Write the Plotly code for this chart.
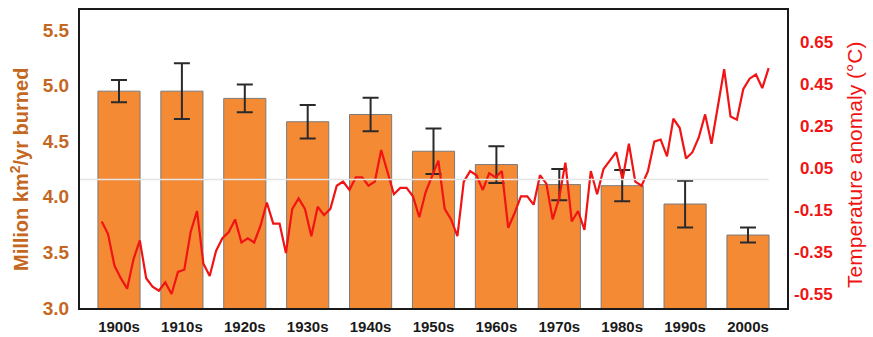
import plotly.graph_objects as go

# ---- data ----
decades = ["1900s", "1910s", "1920s", "1930s", "1940s", "1950s",
           "1960s", "1970s", "1980s", "1990s", "2000s"]
burned = [4.95, 4.95, 4.885, 4.675, 4.74, 4.41, 4.29, 4.11, 4.10, 3.935, 3.656]
burned_err = [0.10, 0.25, 0.125, 0.15, 0.15, 0.205, 0.165, 0.14, 0.14, 0.21, 0.068]

years = list(range(1900, 2006))
temp_anom = [
    -0.20, -0.26, -0.41, -0.47, -0.52, -0.38, -0.29, -0.47, -0.51, -0.53,
    -0.49, -0.545, -0.44, -0.43, -0.25, -0.15, -0.40, -0.46, -0.34, -0.28,
    -0.25, -0.19, -0.30, -0.28, -0.30, -0.22, -0.11, -0.21, -0.21, -0.35,
    -0.14, -0.09, -0.14, -0.27, -0.13, -0.17, -0.14, -0.03, -0.01, -0.05,
    0.01, 0.01, -0.03, -0.01, 0.14, 0.03, -0.07, -0.04, -0.04, -0.08,
    -0.18, -0.06, 0.02, 0.09, -0.14, -0.19, -0.27, -0.01, 0.04, 0.02,
    -0.05, 0.03, 0.01, 0.04, -0.23, -0.16, -0.08, -0.08, -0.12, 0.02,
    -0.02, -0.19, -0.09, 0.08, -0.20, -0.15, -0.24, 0.04, -0.07, 0.05,
    0.09, 0.13, 0.00, 0.17, -0.01, -0.03, 0.04, 0.18, 0.19, 0.11,
    0.29, 0.245, 0.10, 0.13, 0.20, 0.31, 0.17, 0.35, 0.525, 0.30,
    0.285, 0.43, 0.48, 0.50, 0.435, 0.53,
]

left_ticks = [3.0, 3.5, 4.0, 4.5, 5.0, 5.5]
right_ticks = [0.65, 0.45, 0.25, 0.05, -0.15, -0.35, -0.55]
right_tick_labels = ["0.65", "0.45", "0.25", "0.05", "-0.15", "-0.35", "-0.55"]

BROWN = "#C4671F"
RED = "#F01414"
FONT = "Arial, Liberation Sans, sans-serif"

fig = go.Figure()
fig.add_trace(go.Bar(
    x=decades, y=burned, width=0.67,
    marker=dict(color="#F58A35", line=dict(color="#7a7a7a", width=1)),
    error_y=dict(type="data", array=burned_err, color="#2a2a2a", thickness=2, width=8),
    xaxis="x", yaxis="y", showlegend=False,
))
fig.add_trace(go.Scatter(
    x=years, y=temp_anom, mode="lines",
    line=dict(color=RED, width=2.2),
    xaxis="x2", yaxis="y2", showlegend=False,
))

fig.add_shape(type="line", xref="x", yref="y2", x0=-0.62, x1=10.33, y0=0, y1=0,
              line=dict(color="#e4e4e4", width=1.5), layer="above")

annotations = []
for v, t in zip(right_ticks, right_tick_labels):
    annotations.append(dict(
        x=1, xref="paper", y=v, yref="y2", text=f"<b>{t}</b>", showarrow=False,
        xanchor="right", xshift=48, font=dict(family=FONT, size=17, color=RED),
    ))
annotations.append(dict(
    x=0, xref="paper", y=0.463, yref="paper", xshift=-61,
    xanchor="center", yanchor="middle",
    text="<b>Million km<sup>2</sup>/yr burned</b>", textangle=-90, showarrow=False,
    font=dict(family=FONT, size=20, color=BROWN),
))
annotations.append(dict(
    x=1, xref="paper", y=0.48, yref="paper", xshift=68,
    xanchor="center", yanchor="middle",
    text="Temperature anomaly (°C)", textangle=-90, showarrow=False,
    font=dict(family=FONT, size=21, color=RED),
))

fig.update_layout(
    width=873, height=337,
    margin=dict(l=80, r=86, t=10, b=29, autoexpand=False),
    paper_bgcolor="white", plot_bgcolor="white",
    font=dict(family=FONT),
    annotations=annotations,
    xaxis=dict(
        type="category", range=[-0.62, 10.62], automargin=False,
        showline=True, linecolor="#1a1a1a", linewidth=2, mirror=True,
        showgrid=False, ticks="", ticklabelstandoff=4,
        tickfont=dict(family=FONT, size=15, color="#1a1a1a", weight="bold"),
    ),
    yaxis=dict(
        range=[3.0, 5.68], tickvals=left_ticks, tickformat=".1f", automargin=False,
        showline=True, linecolor="#1a1a1a", linewidth=2, mirror=True,
        showgrid=False, zeroline=False, ticks="", ticklabelstandoff=5,
        tickfont=dict(family=FONT, size=19, color=BROWN, weight="bold"),
    ),
    xaxis2=dict(overlaying="x", range=[1896.58, 2007.89], visible=False),
    yaxis2=dict(overlaying="y", side="right", range=[-0.612, 0.807], automargin=False,
                showticklabels=False, showgrid=False, zeroline=False, showline=False),
)

fig.write_html(
    "out.html",
    config={"displayModeBar": False},
    post_script="document.body.style.margin='0';document.body.style.overflow='hidden';",
)
